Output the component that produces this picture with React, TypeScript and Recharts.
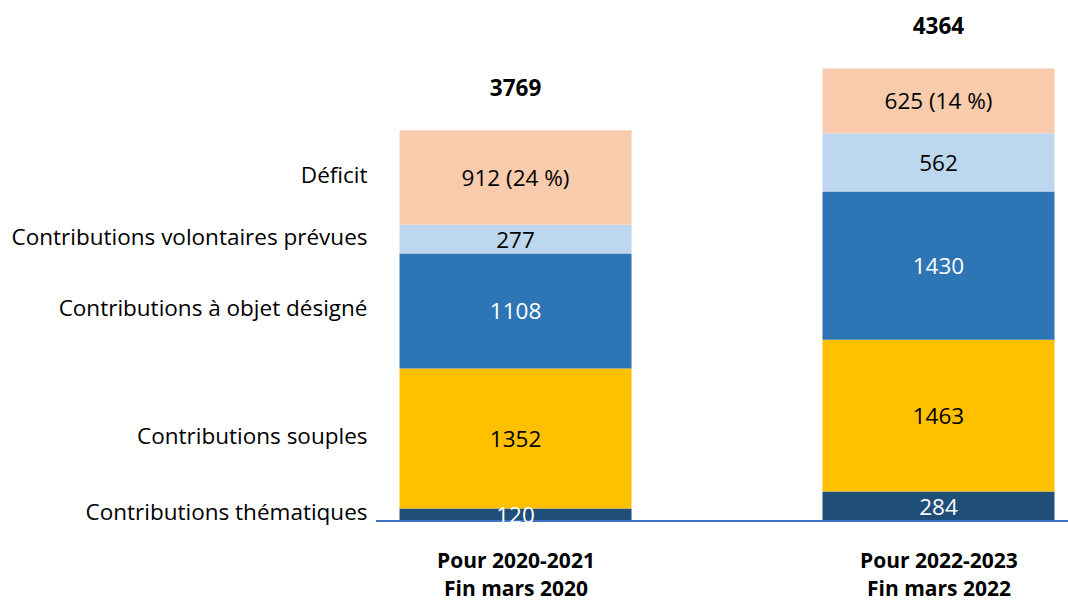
import React from "react";
import { BarChart, Bar, XAxis, YAxis, LabelList } from "recharts";

const categories = ["2020-2021", "2022-2023"];
const xPositions = [0, 1];
const tickLine1 = ["Pour 2020-2021", "Pour 2022-2023"];
const tickLine2 = ["Fin mars 2020", "Fin mars 2022"];

const thematiques = [120, 284];
const souples = [1352, 1463];
const objet = [1108, 1430];
const volontaires = [277, 562];
const deficit = [912, 625];
const deficitLabels = ["912 (24 %)", "625 (14 %)"];
const totals = [3769, 4364];

const seriesNames = {
  thematiques: "Contributions thématiques",
  souples: "Contributions souples",
  objet: "Contributions à objet désigné",
  volontaires: "Contributions volontaires prévues",
  deficit: "Déficit",
};

const data = categories.map((c, i) => ({
  name: c,
  x: xPositions[i],
  thematiques: thematiques[i],
  souples: souples[i],
  objet: objet[i],
  volontaires: volontaires[i],
  deficit: deficit[i],
}));

const FONT = "Open Sans";
const FS = 22.5;
const TICK_FS = 21;

function getBox(p: any) {
  const vb = p.viewBox && typeof p.viewBox.x === "number" ? p.viewBox : p;
  return { x: Number(vb.x), y: Number(vb.y), w: Number(vb.width), h: Number(vb.height) };
}

const valueLabel = (color: string, texts?: string[]) => (p: any) => {
  const b = getBox(p);
  const txt = texts ? texts[p.index] : String(p.value);
  return (
    <text
      x={b.x + b.w / 2}
      y={b.y + b.h / 2}
      textAnchor="middle"
      dominantBaseline="central"
      fill={color}
      fontFamily={FONT}
      fontSize={FS}
    >
      {txt}
    </text>
  );
};

const seriesLabel = (name: string) => (p: any) => {
  if (p.index !== 0) return null;
  const b = getBox(p);
  return (
    <text
      x={b.x - 32}
      y={b.y + b.h / 2 - 3}
      textAnchor="end"
      dominantBaseline="central"
      fill="#000"
      fontFamily={FONT}
      fontSize={FS}
    >
      {name}
    </text>
  );
};

const totalLabel = (p: any) => {
  const b = getBox(p);
  return (
    <text
      x={b.x + b.w / 2}
      y={b.y - 43}
      textAnchor="middle"
      dominantBaseline="central"
      fill="#000"
      fontFamily={FONT}
      fontWeight="bold"
      fontSize={FS}
    >
      {totals[p.index]}
    </text>
  );
};

const CustomTick = (props: any) => {
  const { x, y, payload } = props;
  const i = xPositions.indexOf(payload.value);
  if (i < 0) return null;
  return (
    <g>
      <text x={x} y={y + 31} textAnchor="middle" dominantBaseline="central" fontFamily={FONT} fontWeight="bold" fontSize={TICK_FS} fill="#000">
        {tickLine1[i]}
      </text>
      <text x={x} y={y + 59} textAnchor="middle" dominantBaseline="central" fontFamily={FONT} fontWeight="bold" fontSize={TICK_FS} fill="#000">
        {tickLine2[i]}
      </text>
    </g>
  );
};

export default function App() {
  return (
    <div style={{ position: "absolute", left: 0, top: 0, width: 1068, height: 600, background: "#fff" }}>
      <BarChart width={1068} height={600} data={data} margin={{ top: 0, right: 0, bottom: 0, left: 376 }}>
        <XAxis
          dataKey="x"
          type="number"
          domain={[-0.331, 1.305]}
          ticks={xPositions}
          allowDataOverflow
          height={79}
          tickLine={false}
          axisLine={{ stroke: "#4472C4", strokeWidth: 2 }}
          tick={<CustomTick />}
          interval={0}
        />
        <YAxis hide domain={[0, 5025]} allowDataOverflow />
        <Bar dataKey="thematiques" stackId="a" fill="#1F4E79" barSize={232} isAnimationActive={false}>
          <LabelList dataKey="thematiques" content={valueLabel("#fff")} />
          <LabelList dataKey="thematiques" content={seriesLabel(seriesNames.thematiques)} />
        </Bar>
        <Bar dataKey="souples" stackId="a" fill="#FFC000" barSize={232} isAnimationActive={false}>
          <LabelList dataKey="souples" content={valueLabel("#000")} />
          <LabelList dataKey="souples" content={seriesLabel(seriesNames.souples)} />
        </Bar>
        <Bar dataKey="objet" stackId="a" fill="#2E75B6" barSize={232} isAnimationActive={false}>
          <LabelList dataKey="objet" content={valueLabel("#fff")} />
          <LabelList dataKey="objet" content={seriesLabel(seriesNames.objet)} />
        </Bar>
        <Bar dataKey="volontaires" stackId="a" fill="#BDD7EE" barSize={232} isAnimationActive={false}>
          <LabelList dataKey="volontaires" content={valueLabel("#000")} />
          <LabelList dataKey="volontaires" content={seriesLabel(seriesNames.volontaires)} />
        </Bar>
        <Bar dataKey="deficit" stackId="a" fill="#F8CBAD" barSize={232} isAnimationActive={false}>
          <LabelList dataKey="deficit" content={valueLabel("#000", deficitLabels)} />
          <LabelList dataKey="deficit" content={seriesLabel(seriesNames.deficit)} />
          <LabelList dataKey="deficit" content={totalLabel} />
        </Bar>
      </BarChart>
    </div>
  );
}
